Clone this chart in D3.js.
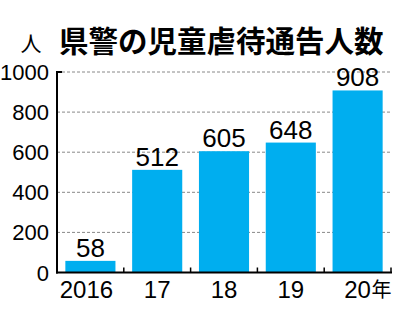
<!DOCTYPE html>
<html>
<head>
<meta charset="utf-8">
<script src="https://d3js.org/d3.v7.min.js"></script>
<style type="text/css">
	body{ margin:0; background:white; }
	.grid line{
		stroke:#888;
		stroke-width:1;
		stroke-dasharray:3,2;
	}
	.bar{ fill:#00aeef; }
	.num{
		font-family:"Liberation Sans", sans-serif;
		fill:black;
	}
	.title{
		font-family:"Noto Sans CJK JP", sans-serif;
		font-weight:bold;
	}
</style>
</head>
<body>
<svg id="chart" width="400" height="312"></svg>
<script>
var years = ["2016", "17", "18", "19", "20"];
var counts = [58, 512, 605, 648, 908];
var yTicks = [0, 200, 400, 600, 800, 1000];

var svg = d3.select("#chart");
var margin = { top: 72, right: 9, bottom: 39.5, left: 57 };
var width = +svg.attr("width");
var height = +svg.attr("height");

var x = d3.scaleBand()
	.domain(years)
	.range([margin.left, width - margin.right])
	.paddingInner(0.25)
	.paddingOuter(0.125);

var y = d3.scaleLinear()
	.domain([0, 1000])
	.range([height - margin.bottom, margin.top]);

// title
svg.append("text")
	.attr("class", "title")
	.attr("x", 59)
	.attr("y", 52)
	.attr("font-size", 29.5)
	.text("県警の児童虐待通告人数");

svg.append("text")
	.attr("x", 31)
	.attr("y", 51)
	.attr("text-anchor", "middle")
	.attr("font-family", "Noto Sans CJK JP, sans-serif")
	.attr("font-size", 21)
	.text("人");

// dashed gridlines
svg.append("g")
	.attr("class", "grid")
	.selectAll("line")
	.data(yTicks.filter(function(d){ return d > 0; }))
	.enter()
	.append("line")
	.attr("x1", margin.left)
	.attr("x2", width - margin.right)
	.attr("y1", function(d){ return y(d); })
	.attr("y2", function(d){ return y(d); });

// y tick labels
svg.append("g")
	.selectAll("text")
	.data(yTicks)
	.enter()
	.append("text")
	.attr("class", "num")
	.attr("x", 49)
	.attr("y", function(d){ return y(d) + 8; })
	.attr("text-anchor", "end")
	.attr("font-size", 22)
	.text(function(d){ return d; });

// bars
svg.selectAll(".bar")
	.data(counts)
	.enter()
	.append("rect")
	.attr("class", "bar")
	.attr("x", function(d, i){ return x(years[i]); })
	.attr("y", function(d){ return y(d); })
	.attr("width", x.bandwidth())
	.attr("height", function(d){ return y(0) - y(d); });

// value labels
svg.selectAll(".val")
	.data(counts)
	.enter()
	.append("text")
	.attr("class", "num val")
	.attr("x", function(d, i){ return x(years[i]) + x.bandwidth() / 2; })
	.attr("y", function(d){ return y(d) - 4; })
	.attr("text-anchor", "middle")
	.attr("font-size", 26)
	.text(function(d){ return d; });

// x axis: line, ticks at band boundaries
var axis = svg.append("g");
axis.append("line")
	.attr("x1", margin.left - 1)
	.attr("x2", width - margin.right + 1)
	.attr("y1", y(0))
	.attr("y2", y(0))
	.attr("stroke", "black")
	.attr("stroke-width", 2);

axis.selectAll(".xt")
	.data(years)
	.enter()
	.append("line")
	.attr("x1", function(d){ return x(d) + x.step() - x.step() * x.paddingInner() / 2; })
	.attr("x2", function(d){ return x(d) + x.step() - x.step() * x.paddingInner() / 2; })
	.attr("y1", y(0))
	.attr("y2", y(0) - 5)
	.attr("stroke", "black")
	.attr("stroke-width", 1.5);

// y axis line with top hook
axis.append("path")
	.attr("d", "M" + (margin.left + 5) + "," + y(1000) + "H" + margin.left + "V" + (y(0) + 1))
	.attr("fill", "none")
	.attr("stroke", "black")
	.attr("stroke-width", 2);

// x labels (the first one sits a little left of its bar)
svg.selectAll(".xl")
	.data(years)
	.enter()
	.append("text")
	.attr("class", "num")
	.attr("x", function(d, i){ return x(d) + x.bandwidth() / 2 - (i === 0 ? 4 : 0); })
	.attr("y", y(0) + 25)
	.attr("text-anchor", "middle")
	.attr("font-size", 24)
	.text(function(d){ return d; });

svg.append("text")
	.attr("x", x("20") + x.bandwidth() / 2 + 14)
	.attr("y", y(0) + 24)
	.attr("font-family", "Noto Sans CJK JP, sans-serif")
	.attr("font-size", 20)
	.text("年");
</script>
</body>
</html>
